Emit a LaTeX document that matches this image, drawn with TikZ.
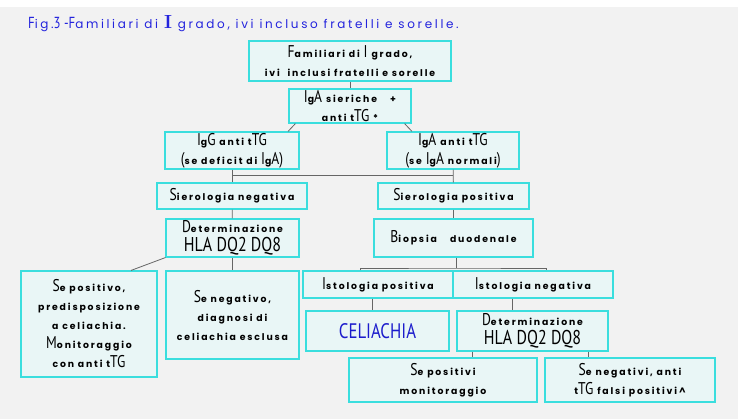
\documentclass[tikz,border=0pt]{standalone}
\usepackage{fontspec}
\usetikzlibrary{positioning}
\newfontfamily\boxfont[LetterSpace=20]{Poppins}
\newfontfamily\titlefont[LetterSpace=22]{Poppins}
\newfontfamily\capfont[FakeStretch=0.8]{PT Sans}
\newcommand{\Cap}[1]{{\capfont\mdseries\fontsize{17}{17}\selectfont #1}}
\newcommand{\Hla}{{\capfont\mdseries\fontsize{20}{20}\selectfont HLA DQ2 DQ8}}
\definecolor{bgc}{HTML}{F2F2F2}
\definecolor{boxfill}{HTML}{E9F6F6}
\definecolor{boxline}{HTML}{3ADEDE}
\definecolor{titleblue}{HTML}{2323DD}
\definecolor{celblue}{HTML}{1C1CCC}
\definecolor{linkc}{HTML}{666666}
\tikzset{
  box/.style={draw=boxline, fill=boxfill, line width=1.1pt, align=center,
    inner sep=0pt, font=\boxfont\bfseries\fontsize{9.3}{19}\selectfont},
  wh/.style 2 args={minimum width=#1pt, minimum height=#2pt},
  link/.style={draw=linkc, line width=0.8pt}
}
\begin{document}
\begin{tikzpicture}[x=1pt, y=-1pt]
  \fill[white] (0,0) rectangle (738,7);
  \fill[bgc] (0,7) rectangle (738,419);
  \useasboundingbox (0,0) rectangle (738,419);

  \node (title) [anchor=base west, text=titleblue, inner sep=0pt,
    font=\titlefont\fontsize{12}{12}\selectfont] at (28,28.5)
    {{\capfont\fontsize{16}{16}\selectfont F}ig.{\capfont\fontsize{16}{16}\selectfont 3 -F}amiliari di {\rmfamily\bfseries\fontsize{19}{19}\selectfont I} grado, ivi incluso fratelli e sorelle.};

  % serologia
  \node (fam) [box, wh={202}{40}] at (350,61) {\Cap{F}amiliari di \Cap{I} grado,\\ivi \ inclusi fratelli e sorelle};
  \node (iga) [box, wh={122}{34}] at (350,106) {\Cap{I}g\Cap{A} sieriche \quad+\\anti t\Cap{TG} *};
  \node (igg) [box, wh={134}{37}] at (232,150.5) {\Cap{I}g\Cap{G} anti t\Cap{TG}\\\Cap{(}se deficit di \Cap{I}g\Cap{A)}};
  \node (igan) [box, wh={132}{37}] at (453,150.5) {\Cap{I}g\Cap{A} anti t\Cap{TG}\\\Cap{(}se \Cap{I}g\Cap{A} normali\Cap{)}};
  \node (sneg) [box, wh={150}{26}] at (232,196) {\Cap{S}ierologia negativa};
  \node (spos) [box, wh={151}{26}] at (453.5,196) {\Cap{S}ierologia positiva};

  % ramo negativo
  \node (hla1) [box, wh={133}{38}] at (232.5,238) {\Cap{D}eterminazione\\\Hla};
  \node (sepos) [box, wh={136}{106}] at (89,324) {\Cap{S}e positivo,\\predisposizione\\a celiachia.\\\Cap{M}onitoraggio\\con anti t\Cap{TG}};
  \node (seneg) [box, wh={133}{88}] at (232.5,315) {\Cap{S}e negativo,\\diagnosi di\\celiachia esclusa};

  % ramo positivo
  \node (biop) [box, wh={159}{38}] at (453.5,238) {\Cap{B}iopsia \quad duodenale};
  \node (istp) [box, wh={150}{27}] at (378,284.5) {\Cap{I}stologia positiva};
  \node (istn) [box, wh={160}{27}] at (533,284.5) {\Cap{I}stologia negativa};
  \node (celi) [box, wh={143}{40}, text=celblue] at (377.5,331) {\Cap{\fontsize{21}{21}\selectfont CELIACHIA}};
  \node (hla2) [box, wh={151}{40}] at (532.5,331) {\Cap{D}eterminazione\\\Hla};
  \node (sepi) [box, wh={188}{44}] at (443,380) {\Cap{S}e positivi\\monitoraggio};
  \node (sene) [box, wh={170}{44}] at (630,380) {\Cap{S}e negativi, anti\\t\Cap{TG} falsi positivi\textasciicircum};

  \coordinate (jl) at (232,175);
  \coordinate (jr) at (453,175);
  \coordinate (bj) at (456,268);

  \path[link]
    (fam) edge (iga)
    ([xshift=7pt]iga.south west) edge ([xshift=56pt]igg.north)
    ([xshift=-7pt]iga.south east) edge ([xshift=-41pt]igan.north)
    (igg) edge (sneg)
    (igan) edge (spos)
    (jl) edge (jr)
    (sneg) edge (hla1)
    (spos) edge (biop)
    (hla1) edge (seneg)
    (hla1.south west) edge ([xshift=42pt]sepos.north)
    ([xshift=-6pt]istp.south) edge ([xshift=-5.5pt]celi.north)
    ([xshift=-21pt]istn.south) edge ([xshift=-20.5pt]hla2.north)
    ([xshift=-60.5pt]hla2.south) edge ([xshift=29pt]sepi.north)
    ([xshift=55.5pt]hla2.south) edge ([xshift=-42pt]sene.north);
  \draw[link] ([xshift=2.5pt]biop.south) -- (bj);
  \draw[link] ([xshift=-18pt]istp.north) |- (bj) -| ([xshift=13pt]istn.north);
\end{tikzpicture}
\end{document}
